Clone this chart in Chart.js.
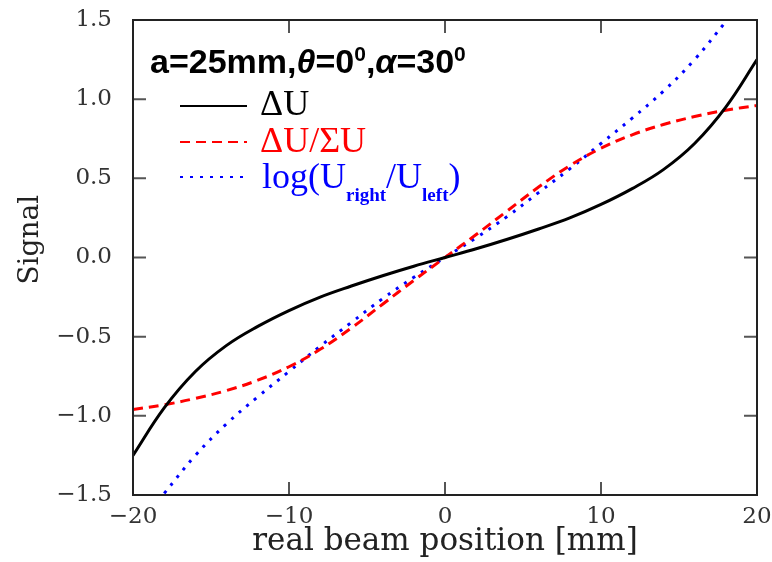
<!DOCTYPE html>
<html>
<head>
<meta charset="utf-8">
<script src="https://cdn.jsdelivr.net/npm/chart.js@4.4.1/dist/chart.umd.min.js"></script>
<style>
  body { margin: 0; background: #fff; }
  #wrap { width: 772px; height: 562px; }
</style>
</head>
<body>
<div id="wrap"><canvas id="signalChart" width="772" height="562"></canvas></div>
<script>
// posiciones del haz [mm]
const positions = [-20, -18, -16, -14, -12, -10, -8, -6, -4, -2, 0, 2, 4, 6, 8, 10, 12, 14, 16, 18, 20];
// ΔU
const deltaU = [-1.25, -0.95, -0.72, -0.555, -0.435, -0.335, -0.25, -0.18, -0.115, -0.055, 0, 0.055, 0.115, 0.18, 0.25, 0.335, 0.435, 0.555, 0.72, 0.95, 1.25];
// ΔU/ΣU
const deltaOverSum = [-0.96, -0.93, -0.89, -0.84, -0.775, -0.69, -0.58, -0.445, -0.295, -0.145, 0, 0.145, 0.295, 0.445, 0.58, 0.69, 0.775, 0.84, 0.89, 0.93, 0.96];
// log(Uright/Uleft)
const logRatio = [null, -1.49, -1.25, -1.05, -0.88, -0.72, -0.56, -0.41, -0.26, -0.125, 0, 0.125, 0.26, 0.41, 0.56, 0.72, 0.88, 1.05, 1.25, 1.49, null];

const xTicks = [-20, -10, 0, 10, 20];
const yTicks = [-1.5, -1.0, -0.5, 0.0, 0.5, 1.0, 1.5];

const toPoints = (vals) => positions.map((p, i) => ({ x: p, y: vals[i] }));
const minus = (s) => s.replace('-', '\u2212');

// Marco y marcas hacia adentro en los cuatro lados
const frameTicks = {
  id: 'frameTicks',
  afterDatasetsDraw(chart) {
    const { ctx, chartArea: a, scales } = chart;
    const len = 13;
    ctx.save();
    ctx.lineWidth = 2;
    ctx.strokeStyle = '#555';
    ctx.beginPath();
    xTicks.slice(1, -1).forEach(v => {
      const px = scales.x.getPixelForValue(v);
      ctx.moveTo(px, a.bottom); ctx.lineTo(px, a.bottom - len);
      ctx.moveTo(px, a.top); ctx.lineTo(px, a.top + len);
    });
    yTicks.slice(1, -1).forEach(v => {
      const py = scales.y.getPixelForValue(v);
      ctx.moveTo(a.left, py); ctx.lineTo(a.left + len, py);
      ctx.moveTo(a.right, py); ctx.lineTo(a.right - len, py);
    });
    ctx.stroke();
    ctx.strokeStyle = '#222';
    ctx.strokeRect(a.left, a.top, a.right - a.left, a.bottom - a.top);
    ctx.restore();
  }
};

// Texto por partes (normal, subíndice, superíndice)
const drawParts = (ctx, x, y, parts) => {
  parts.forEach(p => {
    ctx.font = p.font;
    ctx.fillText(p.text, x, y + (p.dy || 0));
    x += ctx.measureText(p.text).width;
  });
};

// Leyenda dentro del área del gráfico
const legendBox = {
  id: 'legendBox',
  afterDraw(chart) {
    const ctx = chart.ctx;
    ctx.save();
    ctx.textBaseline = 'alphabetic';
    ctx.fillStyle = '#000';
    const tf = 'bold 34px "Liberation Sans"';
    const ti = 'italic bold 34px "Liberation Sans"';
    const ts = 'bold 21px "Liberation Sans"';
    drawParts(ctx, 150, 73, [
      { text: 'a=25mm,', font: tf },
      { text: '\u03B8', font: ti },
      { text: '=0', font: tf },
      { text: '0', font: ts, dy: -12 },
      { text: ',', font: tf },
      { text: '\u03B1', font: ti },
      { text: '=30', font: tf },
      { text: '0', font: ts, dy: -12 }
    ]);

    const samples = [
      { y: 106, color: '#000', dash: [] },
      { y: 142, color: '#ff0000', dash: [10, 6] },
      { y: 177, color: '#0000ff', dash: [3, 7] }
    ];
    samples.forEach(s => {
      ctx.beginPath();
      ctx.strokeStyle = s.color;
      ctx.lineWidth = 2;
      ctx.setLineDash(s.dash);
      ctx.moveTo(180, s.y);
      ctx.lineTo(247, s.y);
      ctx.stroke();
    });
    ctx.setLineDash([]);

    const mf = '36px "Liberation Serif"';
    const sf = 'bold 19px "Liberation Serif"';
    ctx.fillStyle = '#000';
    drawParts(ctx, 260, 115, [{ text: '\u0394U', font: mf }]);
    ctx.fillStyle = '#ff0000';
    drawParts(ctx, 260, 152, [{ text: '\u0394U/\u03A3U', font: mf }]);
    ctx.fillStyle = '#0000ff';
    drawParts(ctx, 262, 188, [
      { text: 'log(U', font: mf },
      { text: 'right', font: sf, dy: 13 },
      { text: '/U', font: mf },
      { text: 'left', font: sf, dy: 13 },
      { text: ')', font: mf }
    ]);
    ctx.restore();
  }
};

const tickFont = { family: '"DejaVu Serif"', size: 23 };

const config = {
  type: 'line',
  data: {
    datasets: [
      { label: 'ΔU', data: toPoints(deltaU), borderColor: '#000', borderWidth: 3 },
      { label: 'ΔU/ΣU', data: toPoints(deltaOverSum), borderColor: '#ff0000', borderWidth: 3, borderDash: [10, 6] },
      { label: 'log(Uright/Uleft)', data: toPoints(logRatio), borderColor: '#0000ff', borderWidth: 3, borderDash: [3, 7] }
    ]
  },
  options: {
    responsive: false,
    animation: false,
    layout: { padding: { top: 20, right: 15, left: 0, bottom: 0 } },
    elements: { point: { radius: 0 }, line: { tension: 0.4 } },
    plugins: { legend: { display: false }, tooltip: { enabled: false } },
    scales: {
      x: {
        type: 'linear', min: -20, max: 20,
        afterFit: (s) => { s.height = 67; s.paddingLeft = 0; s.paddingRight = 0; },
        afterBuildTicks: (s) => { s.ticks = xTicks.map(v => ({ value: v })); },
        grid: { display: false, drawTicks: false },
        border: { display: false },
        ticks: { font: tickFont, color: '#333', padding: 8, maxRotation: 0, callback: (v) => minus(String(v)) },
        title: { display: true, text: 'real beam position [mm]', font: { family: '"DejaVu Serif"', size: 31 }, color: '#222', padding: { top: 0, bottom: 1 } }
      },
      y: {
        min: -1.5, max: 1.5,
        afterFit: (s) => { s.width = 133; s.paddingTop = 0; s.paddingBottom = 0; },
        afterBuildTicks: (s) => { s.ticks = yTicks.map(v => ({ value: v })); },
        grid: { display: false, drawTicks: false },
        border: { display: false },
        ticks: { font: tickFont, color: '#333', padding: 21, callback: (v) => minus(v.toFixed(1)) },
        // espacios al inicio para subir un poco el título, como en el original
        title: { display: true, text: '    Signal', font: { family: '"DejaVu Serif"', size: 28 }, color: '#222', padding: { top: 14, bottom: 0 } }
      }
    }
  },
  plugins: [frameTicks, legendBox]
};

const signalChart = new Chart(document.getElementById('signalChart'), config);
</script>
</body>
</html>
